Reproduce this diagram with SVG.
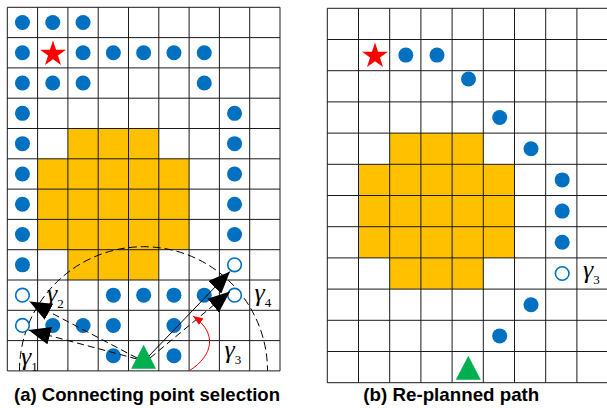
<svg xmlns="http://www.w3.org/2000/svg" width="607" height="408" viewBox="0 0 607 408">
<style>
.grid{fill:none;stroke:#1a1a1a;stroke-width:1}
.obs{fill:#FFC000}
.dot{fill:#0070C0}
.hol{fill:#fff;stroke:#0070C0;stroke-width:1.6}
.star{fill:#FF0000}
.robot{fill:#00B050}
.gam{font-family:"Liberation Serif","Times New Roman",serif;font-style:italic;font-size:26px;fill:#000}
.sub{font-style:normal;font-size:13px}
.title{font-family:"Liberation Sans",Arial,sans-serif;font-weight:bold;font-size:19px;fill:#000}
.dash{stroke-dasharray:7 4}
.conn{fill:none;stroke:#000;stroke-width:1}
</style>
<defs>
<path id="starShape" d="M0,-13.6 L3.06,-4.21 L12.93,-4.2 L4.95,1.61 L7.99,11 L0,5.2 L-7.99,11 L-4.95,1.61 L-12.93,-4.2 L-3.06,-4.21 Z"/>
<path id="tri" d="M0,-12 L12.5,12 L-12.5,12 Z"/>
<marker id="ah" viewBox="0 0 22 18" refX="22" refY="9" markerWidth="22" markerHeight="18" markerUnits="userSpaceOnUse" orient="auto"><path d="M0,0 L22,9 L0,18 Z" fill="#000"/></marker>
<marker id="ahr" viewBox="0 0 10 8" refX="10" refY="4" markerWidth="10" markerHeight="8" markerUnits="userSpaceOnUse" orient="auto"><path d="M0,0 L10,4 L0,8 Z" fill="#FF0000"/></marker>
</defs>
<rect width="607" height="408" fill="#fff"/>

<g id="panel-a">
<path class="obs" d="M67.9,128.5 H158.8 V158.8 H189.1 V249.7 H158.8 V280 H67.9 V249.7 H37.6 V158.8 H67.9 Z"/>
<path class="grid" d="M7.3,7.3V370.9M37.6,7.3V370.9M67.9,7.3V370.9M98.2,7.3V370.9M128.5,7.3V370.9M158.8,7.3V370.9M189.1,7.3V370.9M219.4,7.3V370.9M249.7,7.3V370.9M280,7.3V370.9M7.3,7.3H280M7.3,37.6H280M7.3,67.9H280M7.3,98.2H280M7.3,128.5H280M7.3,158.8H280M7.3,189.1H280M7.3,219.4H280M7.3,249.7H280M7.3,280H280M7.3,310.3H280M7.3,340.6H280M7.3,370.9H280"/>
<path id="search-arc" d="M19.5,370.7 A124,124 0 0 1 267.5,370.7" fill="none" stroke="#000" stroke-width="1" stroke-dasharray="8 4"/>
<g id="path-a">
<circle class="dot" cx="22.45" cy="22.45" r="7.5"/><circle class="dot" cx="52.75" cy="22.45" r="7.5"/><circle class="dot" cx="83.05" cy="22.45" r="7.5"/>
<circle class="dot" cx="22.45" cy="52.75" r="7.5"/><circle class="dot" cx="83.05" cy="52.75" r="7.5"/><circle class="dot" cx="113.35" cy="52.75" r="7.5"/><circle class="dot" cx="143.65" cy="52.75" r="7.5"/><circle class="dot" cx="173.95" cy="52.75" r="7.5"/><circle class="dot" cx="204.25" cy="52.75" r="7.5"/>
<circle class="dot" cx="22.45" cy="83.05" r="7.5"/><circle class="dot" cx="52.75" cy="83.05" r="7.5"/><circle class="dot" cx="83.05" cy="83.05" r="7.5"/><circle class="dot" cx="204.25" cy="83.05" r="7.5"/>
<circle class="dot" cx="22.45" cy="113.35" r="7.5"/><circle class="dot" cx="234.55" cy="113.35" r="7.5"/>
<circle class="dot" cx="22.45" cy="143.65" r="7.5"/><circle class="dot" cx="234.55" cy="143.65" r="7.5"/>
<circle class="dot" cx="22.45" cy="173.95" r="7.5"/><circle class="dot" cx="234.55" cy="173.95" r="7.5"/>
<circle class="dot" cx="22.45" cy="204.25" r="7.5"/><circle class="dot" cx="234.55" cy="204.25" r="7.5"/>
<circle class="dot" cx="22.45" cy="234.55" r="7.5"/><circle class="dot" cx="234.55" cy="234.55" r="7.5"/>
<circle class="dot" cx="22.45" cy="264.85" r="7.5"/>
<circle class="dot" cx="113.35" cy="295.15" r="7.5"/><circle class="dot" cx="143.65" cy="295.15" r="7.5"/><circle class="dot" cx="173.95" cy="295.15" r="7.5"/><circle class="dot" cx="204.25" cy="295.15" r="7.5"/>
<circle class="dot" cx="52.75" cy="325.45" r="7.5"/><circle class="dot" cx="83.05" cy="325.45" r="7.5"/><circle class="dot" cx="113.35" cy="325.45" r="7.5"/><circle class="dot" cx="173.95" cy="325.45" r="7.5"/>
<circle class="dot" cx="113.35" cy="355.75" r="7.5"/><circle class="dot" cx="173.95" cy="355.75" r="7.5"/>
</g>
<g id="candidates-a">
<circle class="hol" cx="234.55" cy="264.85" r="6.8"/>
<circle class="hol" cx="22.45" cy="295.15" r="6.8"/>
<circle class="hol" cx="234.55" cy="295.15" r="6.8"/>
<circle class="hol" cx="22.45" cy="325.45" r="6.8"/>
</g>
<g id="goal-a"><use href="#starShape" class="star" transform="translate(53,54)"/></g>
</g>

<g id="connectors">
<line class="conn dash" x1="137" y1="358" x2="29.5" y2="301.5" marker-end="url(#ah)"/>
<line class="conn dash" x1="137" y1="359" x2="28.5" y2="330" marker-end="url(#ah)"/>
<line class="conn" x1="148" y1="357" x2="230" y2="271.5" marker-end="url(#ah)"/>
<line class="conn dash" x1="150" y1="358" x2="230" y2="291.5" marker-end="url(#ah)"/>
<path d="M189.5,370.5 C213,356 218,333 193,316" fill="none" stroke="#FF0000" stroke-width="1" marker-end="url(#ahr)"/>
</g>

<g id="robot-a"><use href="#tri" class="robot" transform="translate(143.6,356.8)"/></g>

<g id="labels-a">
<text class="gam" x="47" y="302">γ<tspan class="sub" dy="6">2</tspan></text>
<text class="gam" x="21" y="365">γ<tspan class="sub" dy="6">1</tspan></text>
<text class="gam" x="224.5" y="358">γ<tspan class="sub" dy="6">3</tspan></text>
<text class="gam" x="254.5" y="301">γ<tspan class="sub" dy="6">4</tspan></text>
<text class="title" x="14" y="401" textLength="266" lengthAdjust="spacingAndGlyphs">(a) Connecting point selection</text>
</g>

<g id="panel-b">
<path class="obs" d="M389.7,133.1 H483.3 V164.3 H514.5 V257.9 H483.3 V289.1 H389.7 V257.9 H358.5 V164.3 H389.7 Z"/>
<path class="grid" d="M327.3,8.3V382.7M358.5,8.3V382.7M389.7,8.3V382.7M420.9,8.3V382.7M452.1,8.3V382.7M483.3,8.3V382.7M514.5,8.3V382.7M545.7,8.3V382.7M576.9,8.3V382.7M608.1,8.3V382.7M327.3,8.3H608.1M327.3,39.5H608.1M327.3,70.7H608.1M327.3,101.9H608.1M327.3,133.1H608.1M327.3,164.3H608.1M327.3,195.5H608.1M327.3,226.7H608.1M327.3,257.9H608.1M327.3,289.1H608.1M327.3,320.3H608.1M327.3,351.5H608.1M327.3,382.7H608.1"/>
<g id="path-b">
<circle class="dot" cx="405.8" cy="55.1" r="7.5"/>
<circle class="dot" cx="437" cy="55.1" r="7.5"/>
<circle class="dot" cx="468.5" cy="79" r="7.5"/>
<circle class="dot" cx="499.7" cy="117.5" r="7.5"/>
<circle class="dot" cx="531" cy="148.7" r="7.5"/>
<circle class="dot" cx="562.2" cy="179.9" r="7.5"/>
<circle class="dot" cx="562.2" cy="211.1" r="7.5"/>
<circle class="dot" cx="562.2" cy="242.3" r="7.5"/>
<circle class="hol" cx="562.2" cy="273.5" r="6.8"/>
<circle class="dot" cx="531" cy="304.7" r="7.5"/>
<circle class="dot" cx="499.7" cy="335.9" r="7.5"/>
</g>
<g id="goal-b"><use href="#starShape" class="star" transform="translate(375,56)"/></g>
<g id="robot-b"><use href="#tri" class="robot" transform="translate(468.3,367.8)"/></g>
<text class="gam" x="583" y="278">γ<tspan class="sub" dy="6">3</tspan></text>
<text class="title" x="363.3" y="401" textLength="176" lengthAdjust="spacingAndGlyphs">(b) Re-planned path</text>
</g>
</svg>
